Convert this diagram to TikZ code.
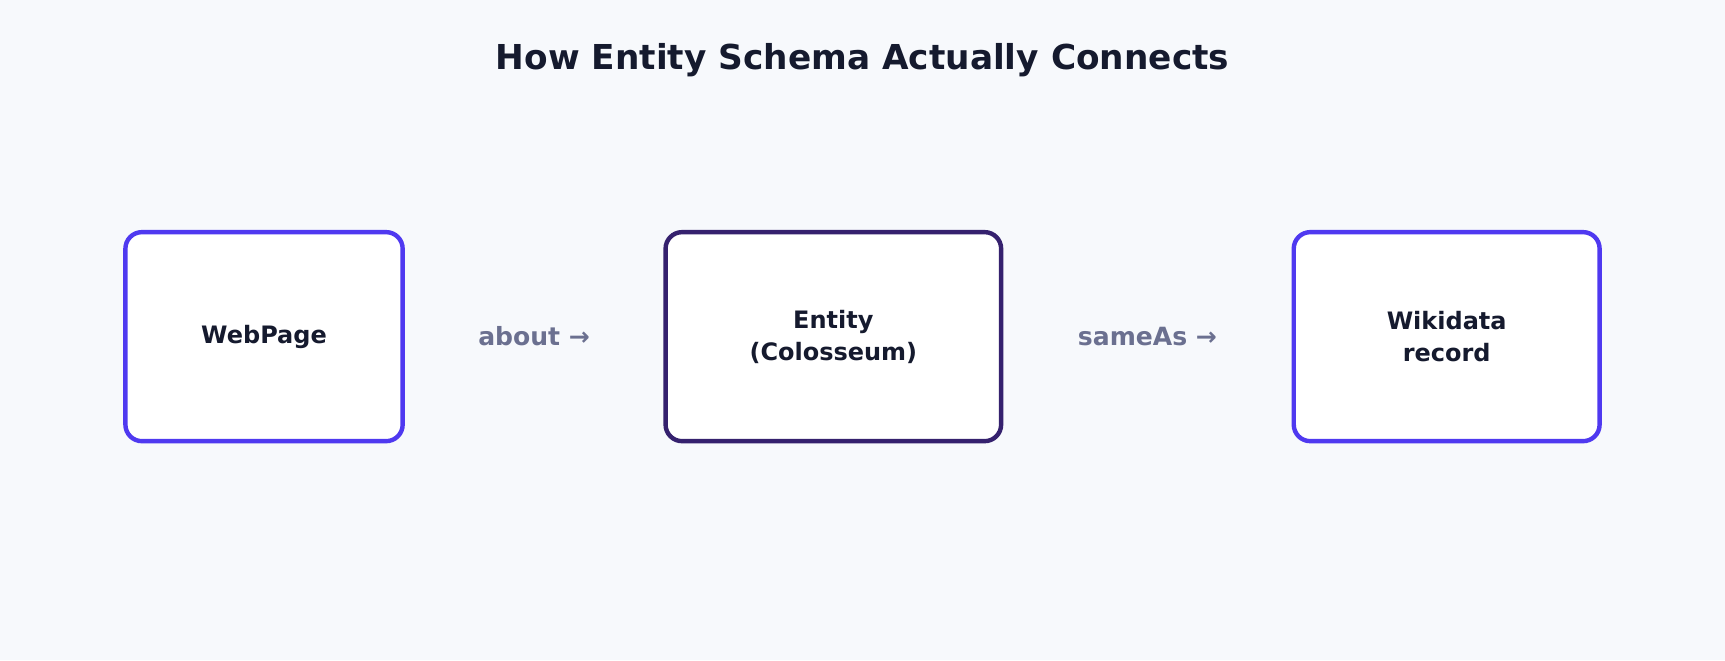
\documentclass[tikz,border=0pt]{standalone}
\usepackage{fontspec}
\setmainfont{DejaVu Sans}
\usetikzlibrary{calc}
\definecolor{bgcol}{HTML}{F7F9FC}
\definecolor{boxblue}{HTML}{4F39F0}
\definecolor{boxdark}{HTML}{35216E}
\definecolor{inkcol}{HTML}{151A2E}
\definecolor{relcol}{HTML}{6B7090}
\tikzset{
	card/.style={draw=boxblue, line width=2pt, rounded corners=7.5pt, fill=white, minimum height=95pt, align=center, font=\bfseries\fontsize{10.9}{14.5}\selectfont, text=inkcol},
	rel/.style={font=\bfseries\fontsize{11.4}{14}\selectfont, text=relcol}
}
\begin{document}
\begin{tikzpicture}[x=0.5pt, y=-0.5pt]
	\fill[bgcol] (0,0) rectangle (1568,600);
	\useasboundingbox (0,0) rectangle (1568,600);
	% --- title ---
	\node[font=\bfseries\fontsize{15.6}{18}\selectfont, text=inkcol] (title) at (784,55) {How Entity Schema Actually Connects};

	% --- cards ---
	\node[card, minimum width=126pt] (page) at (240,306) {WebPage};
	\node[card, minimum width=152.5pt, draw=boxdark] (entity) at (757.5,306) {Entity\\(Colosseum)};
	\node[card, minimum width=139pt] (wiki) at (1315,306) {Wikidata\\record};

	% --- relations ---
	\node[rel] (about) at ($(page.east)!0.5!(entity.west)$) {about →};
	\node[rel] (sameas) at ($(entity.east)!0.5!(wiki.west)$) {sameAs →};
\end{tikzpicture}
\end{document}
